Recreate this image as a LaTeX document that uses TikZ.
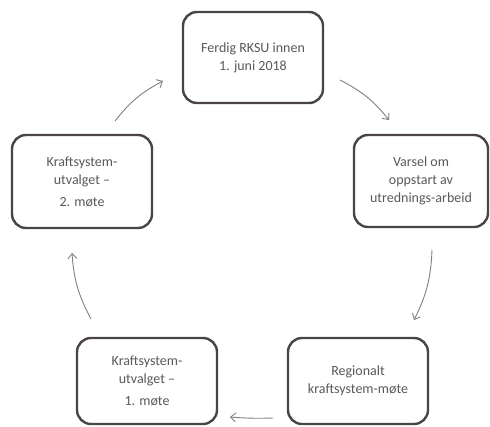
\documentclass[tikz,border=0pt]{standalone}
\usepackage{fontspec}
\setmainfont{Carlito}
\usetikzlibrary{arrows.meta}
\definecolor{boxline}{HTML}{4A4542}
\definecolor{txt}{HTML}{595959}
\definecolor{arr}{HTML}{7F7F7F}
\tikzset{
  stagebox/.style={draw=boxline, line width=2.4pt, rounded corners=14pt, fill=white,
    text=txt, align=center, font=\fontsize{14}{18}\selectfont, inner sep=0pt},
  cyclearrow/.style={draw=arr, line width=0.9pt, -{Straight Barb[length=5pt,width=9pt]}}
}
\begin{document}
\begin{tikzpicture}[x=1pt,y=-1pt]
\useasboundingbox (0,0) rectangle (490,426);
\node[stagebox, minimum width=140pt, minimum height=91pt] (top) at (253,57.5) {Ferdig RKSU innen\\1. juni 2018};
\node[stagebox, minimum width=134pt, minimum height=92pt] (right) at (421,181) {Varsel om\\oppstart av\\utrednings-arbeid};
\node[stagebox, minimum width=140pt, minimum height=86pt] (br) at (358,381) {Regionalt\\kraftsystem-møte};
\node[stagebox, minimum width=140pt, minimum height=86pt] (bl) at (147,381) {Kraftsystem-\\utvalget –\\[4pt]1. møte};
\node[stagebox, minimum width=140pt, minimum height=93pt] (left) at (82,181.5) {Kraftsystem-\\utvalget –\\[4pt]2. møte};
\coordinate (a1s) at (340,80); \coordinate (a1e) at (389,120);
\coordinate (a2s) at (432,250); \coordinate (a2e) at (414,320);
\coordinate (a3s) at (273,418); \coordinate (a3e) at (230,417);
\coordinate (a4s) at (91,319); \coordinate (a4e) at (72,253);
\coordinate (a5s) at (115,121); \coordinate (a5e) at (163,81);
\draw[cyclearrow] (a1s) to[bend left=12] (a1e);
\draw[cyclearrow] (a2s) to[bend left=12] (a2e);
\draw[cyclearrow] (a3s) to[bend left=3] (a3e);
\draw[cyclearrow] (a4s) to[bend left=12] (a4e);
\draw[cyclearrow] (a5s) to[bend left=12] (a5e);
\end{tikzpicture}
\end{document}
